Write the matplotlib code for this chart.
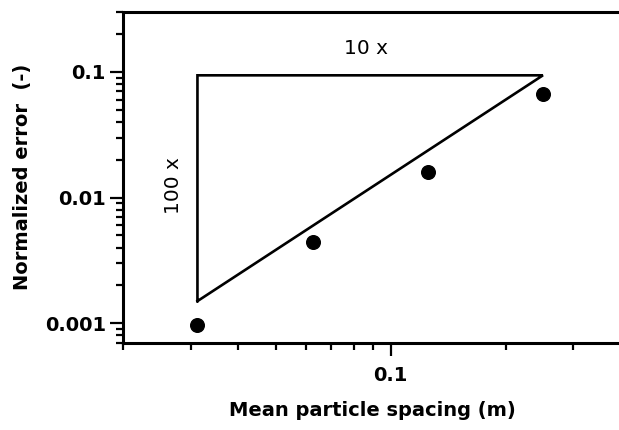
import matplotlib
matplotlib.use("Agg")
import matplotlib.pyplot as plt
from matplotlib.ticker import LogLocator, FixedLocator, NullFormatter, FixedFormatter

# Data
spacing = [0.03125, 0.0625, 0.125, 0.25]
error = [0.00097, 0.00444, 0.0161, 0.0668]

# slope triangle (guide)
tri_x = [0.03125, 0.03125, 0.25, 0.03125]
tri_y = [0.0015, 0.094, 0.094, 0.0015]

xticks = [0.1]
xticklabels = ["0.1"]
yticks = [0.001, 0.01, 0.1]
yticklabels = ["0.001", "0.01", "0.1"]

plt.rcParams['font.family'] = ['DejaVu Sans']

fig = plt.figure(figsize=(6.19, 4.30), dpi=100)
ax = fig.add_axes([123.3/619, 87.3/430, (621-123.3)/619, (342.7-12)/430])

ax.plot(spacing, error, 'o', color='black', markersize=9.8, zorder=3)
ax.plot(tri_x, tri_y, '-', color='black', lw=1.9, solid_joinstyle='miter')

ax.set_xscale('log')
ax.set_yscale('log')
ax.set_xlim(0.02, 0.4)
ax.set_ylim(0.0007, 0.3)

ax.xaxis.set_major_locator(FixedLocator(xticks))
ax.xaxis.set_major_formatter(FixedFormatter(xticklabels))
ax.xaxis.set_minor_locator(LogLocator(base=10, subs=range(2, 10)))
ax.xaxis.set_minor_formatter(NullFormatter())
ax.yaxis.set_major_locator(FixedLocator(yticks))
ax.yaxis.set_major_formatter(FixedFormatter(yticklabels))
ax.yaxis.set_minor_locator(LogLocator(base=10, subs=range(2, 10)))
ax.yaxis.set_minor_formatter(NullFormatter())

for s in ['left', 'bottom', 'top']:
    ax.spines[s].set_linewidth(2.2)
ax.spines['right'].set_visible(False)

ax.tick_params(which='major', direction='out', length=9.5, width=1.6, labelsize=14,
               top=False, right=False)
ax.tick_params(which='minor', direction='out', length=4.8, width=1.6, top=False, right=False)
ax.tick_params(axis='x', which='major', pad=7)
ax.tick_params(axis='y', which='major', pad=3)
for lbl in ax.get_xticklabels() + ax.get_yticklabels():
    lbl.set_fontweight('bold')

ax.set_xlabel('Mean particle spacing (m)', fontsize=14, fontweight='bold', labelpad=12)
ax.set_ylabel('Normalized error  (-)', fontsize=14, fontweight='bold', labelpad=9)

ax.text(0.086, 0.155, '10 x', fontsize=14.5, ha='center', va='center')
ax.text(0.027, 0.0125, '100 x', fontsize=14.5, ha='center', va='center', rotation=90)

fig.savefig('out.png', dpi=100)
